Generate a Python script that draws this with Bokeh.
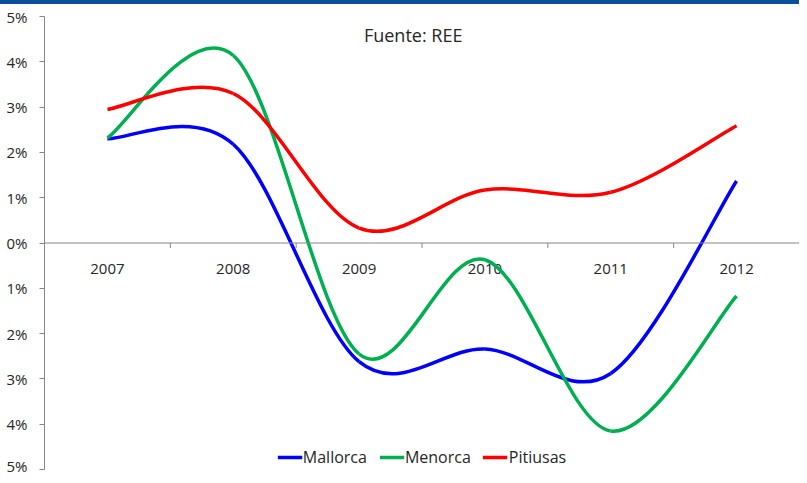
from bokeh.plotting import figure
from bokeh.models import (Div, Span, Label, Legend, LegendItem, FixedTicker,
                          ColumnDataSource, Range1d)
from bokeh.layouts import column
from bokeh.core.properties import value
from bokeh.embed import file_html
from bokeh.resources import INLINE

# ---- data (percent change) ----
years = [2007, 2008, 2009, 2010, 2011, 2012]
year_labels = ["2007", "2008", "2009", "2010", "2011", "2012"]
mallorca = [2.30, 2.18, -2.62, -2.34, -2.88, 1.37]
menorca = [2.32, 4.14, -2.45, -0.37, -4.15, -1.17]
pitiusas = [2.95, 3.30, 0.33, 1.17, 1.12, 2.59]
series_names = ["Mallorca", "Menorca", "Pitiusas"]
series_colors = ["#0000FF", "#00B050", "#FF0000"]
y_ticks = [-5, -4, -3, -2, -1, 0, 1, 2, 3, 4, 5]
y_tick_labels = ["5%", "4%", "3%", "2%", "1%", "0%", "1%", "2%", "3%", "4%", "5%"]
source_note = "Fuente: REE"

FONT = "Open Sans"
TXT = "#262626"
AX = "#868686"


def smooth_segments(xs, ys):
    """Bezier segments through the data points (Excel-like smoothing)."""
    n = len(xs)
    px = [xs[0]] + list(xs) + [xs[-1]]
    py = [ys[0]] + list(ys) + [ys[-1]]
    d = dict(x0=[], y0=[], x1=[], y1=[], cx0=[], cy0=[], cx1=[], cy1=[])
    for i in range(n - 1):
        j = i + 1
        d["x0"].append(px[j]); d["y0"].append(py[j])
        d["x1"].append(px[j + 1]); d["y1"].append(py[j + 1])
        d["cx0"].append(px[j] + (px[j + 1] - px[j - 1]) / 6)
        d["cy0"].append(py[j] + (py[j + 1] - py[j - 1]) / 6)
        d["cx1"].append(px[j + 1] - (px[j + 2] - px[j]) / 6)
        d["cy1"].append(py[j + 1] - (py[j + 2] - py[j]) / 6)
    return ColumnDataSource(d)


p = figure(width=799, height=471, output_backend="svg", toolbar_location=None,
           x_range=Range1d(years[0] - 0.5, years[-1] + 0.5),
           y_range=Range1d(y_ticks[0], y_ticks[-1]),
           min_border_left=44, min_border_right=0, min_border_top=12,
           min_border_bottom=6, x_axis_type=None)
p.outline_line_color = None
p.grid.visible = False
p.background_fill_color = "white"
p.border_fill_color = "white"

ax = p.yaxis[0]
ax.ticker = FixedTicker(ticks=y_ticks)
ax.major_label_overrides = {t: l for t, l in zip(y_ticks, y_tick_labels)}
ax.axis_line_color = AX
ax.major_tick_line_color = AX
ax.major_tick_out = 5
ax.major_tick_in = 0
ax.minor_tick_line_color = None
ax.major_label_text_font = FONT
ax.major_label_text_font_size = "15px"
ax.major_label_text_color = TXT
ax.major_label_standoff = 12

# zero line acting as category axis
p.add_layout(Span(location=0, dimension="width", line_color=AX, line_width=1))
bounds = [y + 0.5 for y in years[:-1]]
p.segment(x0=bounds, x1=bounds, y0=[0] * len(bounds), y1=[-0.11] * len(bounds),
          line_color=AX, line_width=1)
p.text(x=years, y=[0] * len(years), text=year_labels, y_offset=26,
       text_align="center", text_baseline="middle", text_font=value(FONT),
       text_font_size="15px", text_color=TXT)

items = []
for name, vals, col in zip(series_names, [mallorca, menorca, pitiusas], series_colors):
    r = p.bezier(x0="x0", y0="y0", x1="x1", y1="y1", cx0="cx0", cy0="cy0",
                 cx1="cx1", cy1="cy1", source=smooth_segments(years, vals),
                 line_color=col, line_width=3.5)
    items.append(LegendItem(label=name, renderers=[r]))

legend = Legend(items=items, orientation="horizontal", location="bottom_center",
                background_fill_alpha=0, border_line_alpha=0,
                label_text_font=FONT, label_text_font_size="16px",
                label_text_color=TXT, glyph_width=25, glyph_height=16,
                label_standoff=1, spacing=12, padding=0, margin=1)
p.add_layout(legend)

p.add_layout(Label(x=2009.43, y=4.6, text=source_note, text_align="center",
                   text_baseline="middle", text_font=FONT,
                   text_font_size="18px", text_color=TXT))

bar = Div(width=799, height=4, styles={"background-color": "#0B4FA0"}, margin=0)
layout = column(bar, p, spacing=0)

open("out.html", "w").write(file_html(layout, INLINE))
